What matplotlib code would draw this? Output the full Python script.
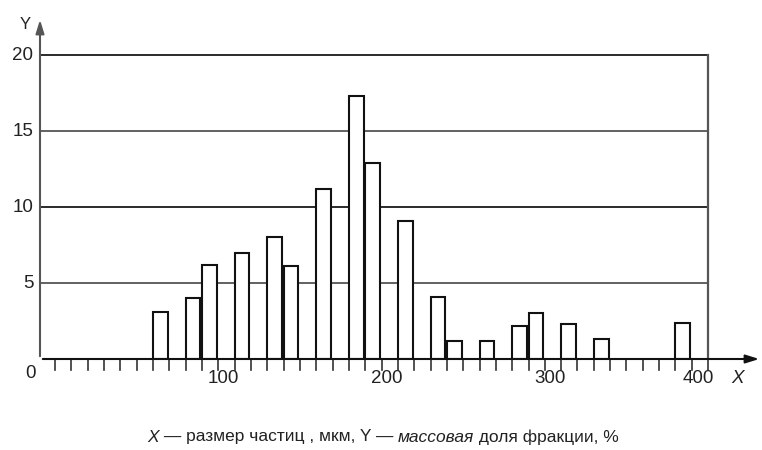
import matplotlib
matplotlib.use("Agg")
import matplotlib.pyplot as plt

# Data: left edge of each size fraction (мкм) and mass fraction (%)
bin_left = [60, 80, 90, 110, 130, 140, 160, 180, 190, 210, 230, 240, 260, 280, 290, 310, 330, 380]
mass_pct = [3.1, 4.0, 6.2, 7.0, 8.0, 6.1, 11.2, 17.3, 12.9, 9.1, 4.1, 1.2, 1.2, 2.2, 3.0, 2.3, 1.3, 2.4]
bar_width = 9
x_major = [100, 200, 300, 400]
y_major = [5, 10, 15, 20]

plt.rcParams['font.family'] = ['Liberation Sans', 'DejaVu Sans']

fig = plt.figure(figsize=(7.62, 4.5), dpi=100)
ax = fig.add_axes([40/762, 91/450, 722/762, 343.5/450])
xmin, xmax = -9.2, 433
ax.set_xlim(xmin, xmax)
ax.set_ylim(0, 22.6)
for s in ax.spines.values():
    s.set_visible(False)
ax.set_xticks([])
ax.set_yticks([])

# grid lines
for y in y_major:
    c = '#1a1a1a' if y in (10, 20) else '#555555'
    ax.plot([xmin, 400], [y, y], color=c, lw=1.3, zorder=1)
ax.plot([400, 400], [0, 20], color='#555555', lw=1.6, zorder=1)

# bars
ax.bar(bin_left, mass_pct, width=bar_width, align='edge', facecolor='white',
       edgecolor='#111111', linewidth=1.5, zorder=3)

# minor ticks
for t in range(0, 401, 10):
    ax.plot([t, t], [0, -0.7], color='#333333', lw=1.2, zorder=2, clip_on=False)

# axes with arrows
ax.annotate('', xy=(xmax, 0), xytext=(xmin, 0),
            arrowprops=dict(arrowstyle='-|>,head_length=0.8,head_width=0.25', color='#111111', lw=1.5),
            zorder=4, annotation_clip=False)
ax.annotate('', xy=(xmin, 22.5), xytext=(xmin, 0),
            arrowprops=dict(arrowstyle='-|>,head_length=0.8,head_width=0.25', color='#555555', lw=1.5),
            zorder=4, annotation_clip=False)

tc = '#222222'
fs = 13.5
for xv in x_major:
    ax.text(xv + 3 if xv < 400 else xv - 6, -0.7, str(xv), ha='center', va='top', fontsize=fs, color=tc)
for yv in y_major:
    ax.text(xmin - 4, yv, str(yv), ha='right', va='center', fontsize=fs, color=tc)
ax.text(xmin - 6, -0.4, '0', ha='center', va='top', fontsize=fs, color=tc)
ax.text(418, -0.7, 'X', ha='center', va='top', fontsize=fs, color=tc, style='italic')
ax.text(xmin - 9, 22.0, 'Y', ha='center', va='center', fontsize=fs - 1.5, color=tc)

# caption with mixed styles
pieces = [('X', 'italic'), (' — размер частиц , мкм, Y — ', 'normal'),
          ('массовая', 'italic'), (' доля фракции, %', 'normal')]
fig.canvas.draw()
r = fig.canvas.get_renderer()
cfs = 12.5
texts = []
total = 0
for s, st in pieces:
    t = fig.text(0, 13/450, s, fontsize=cfs, style=st, color=tc, va='center', ha='left')
    w = t.get_window_extent(renderer=r).width
    texts.append((t, w))
    total += w
x0 = 383 - total / 2
for t, w in texts:
    t.set_x(x0 / 762)
    x0 += w

fig.savefig('out.png', dpi=100)
